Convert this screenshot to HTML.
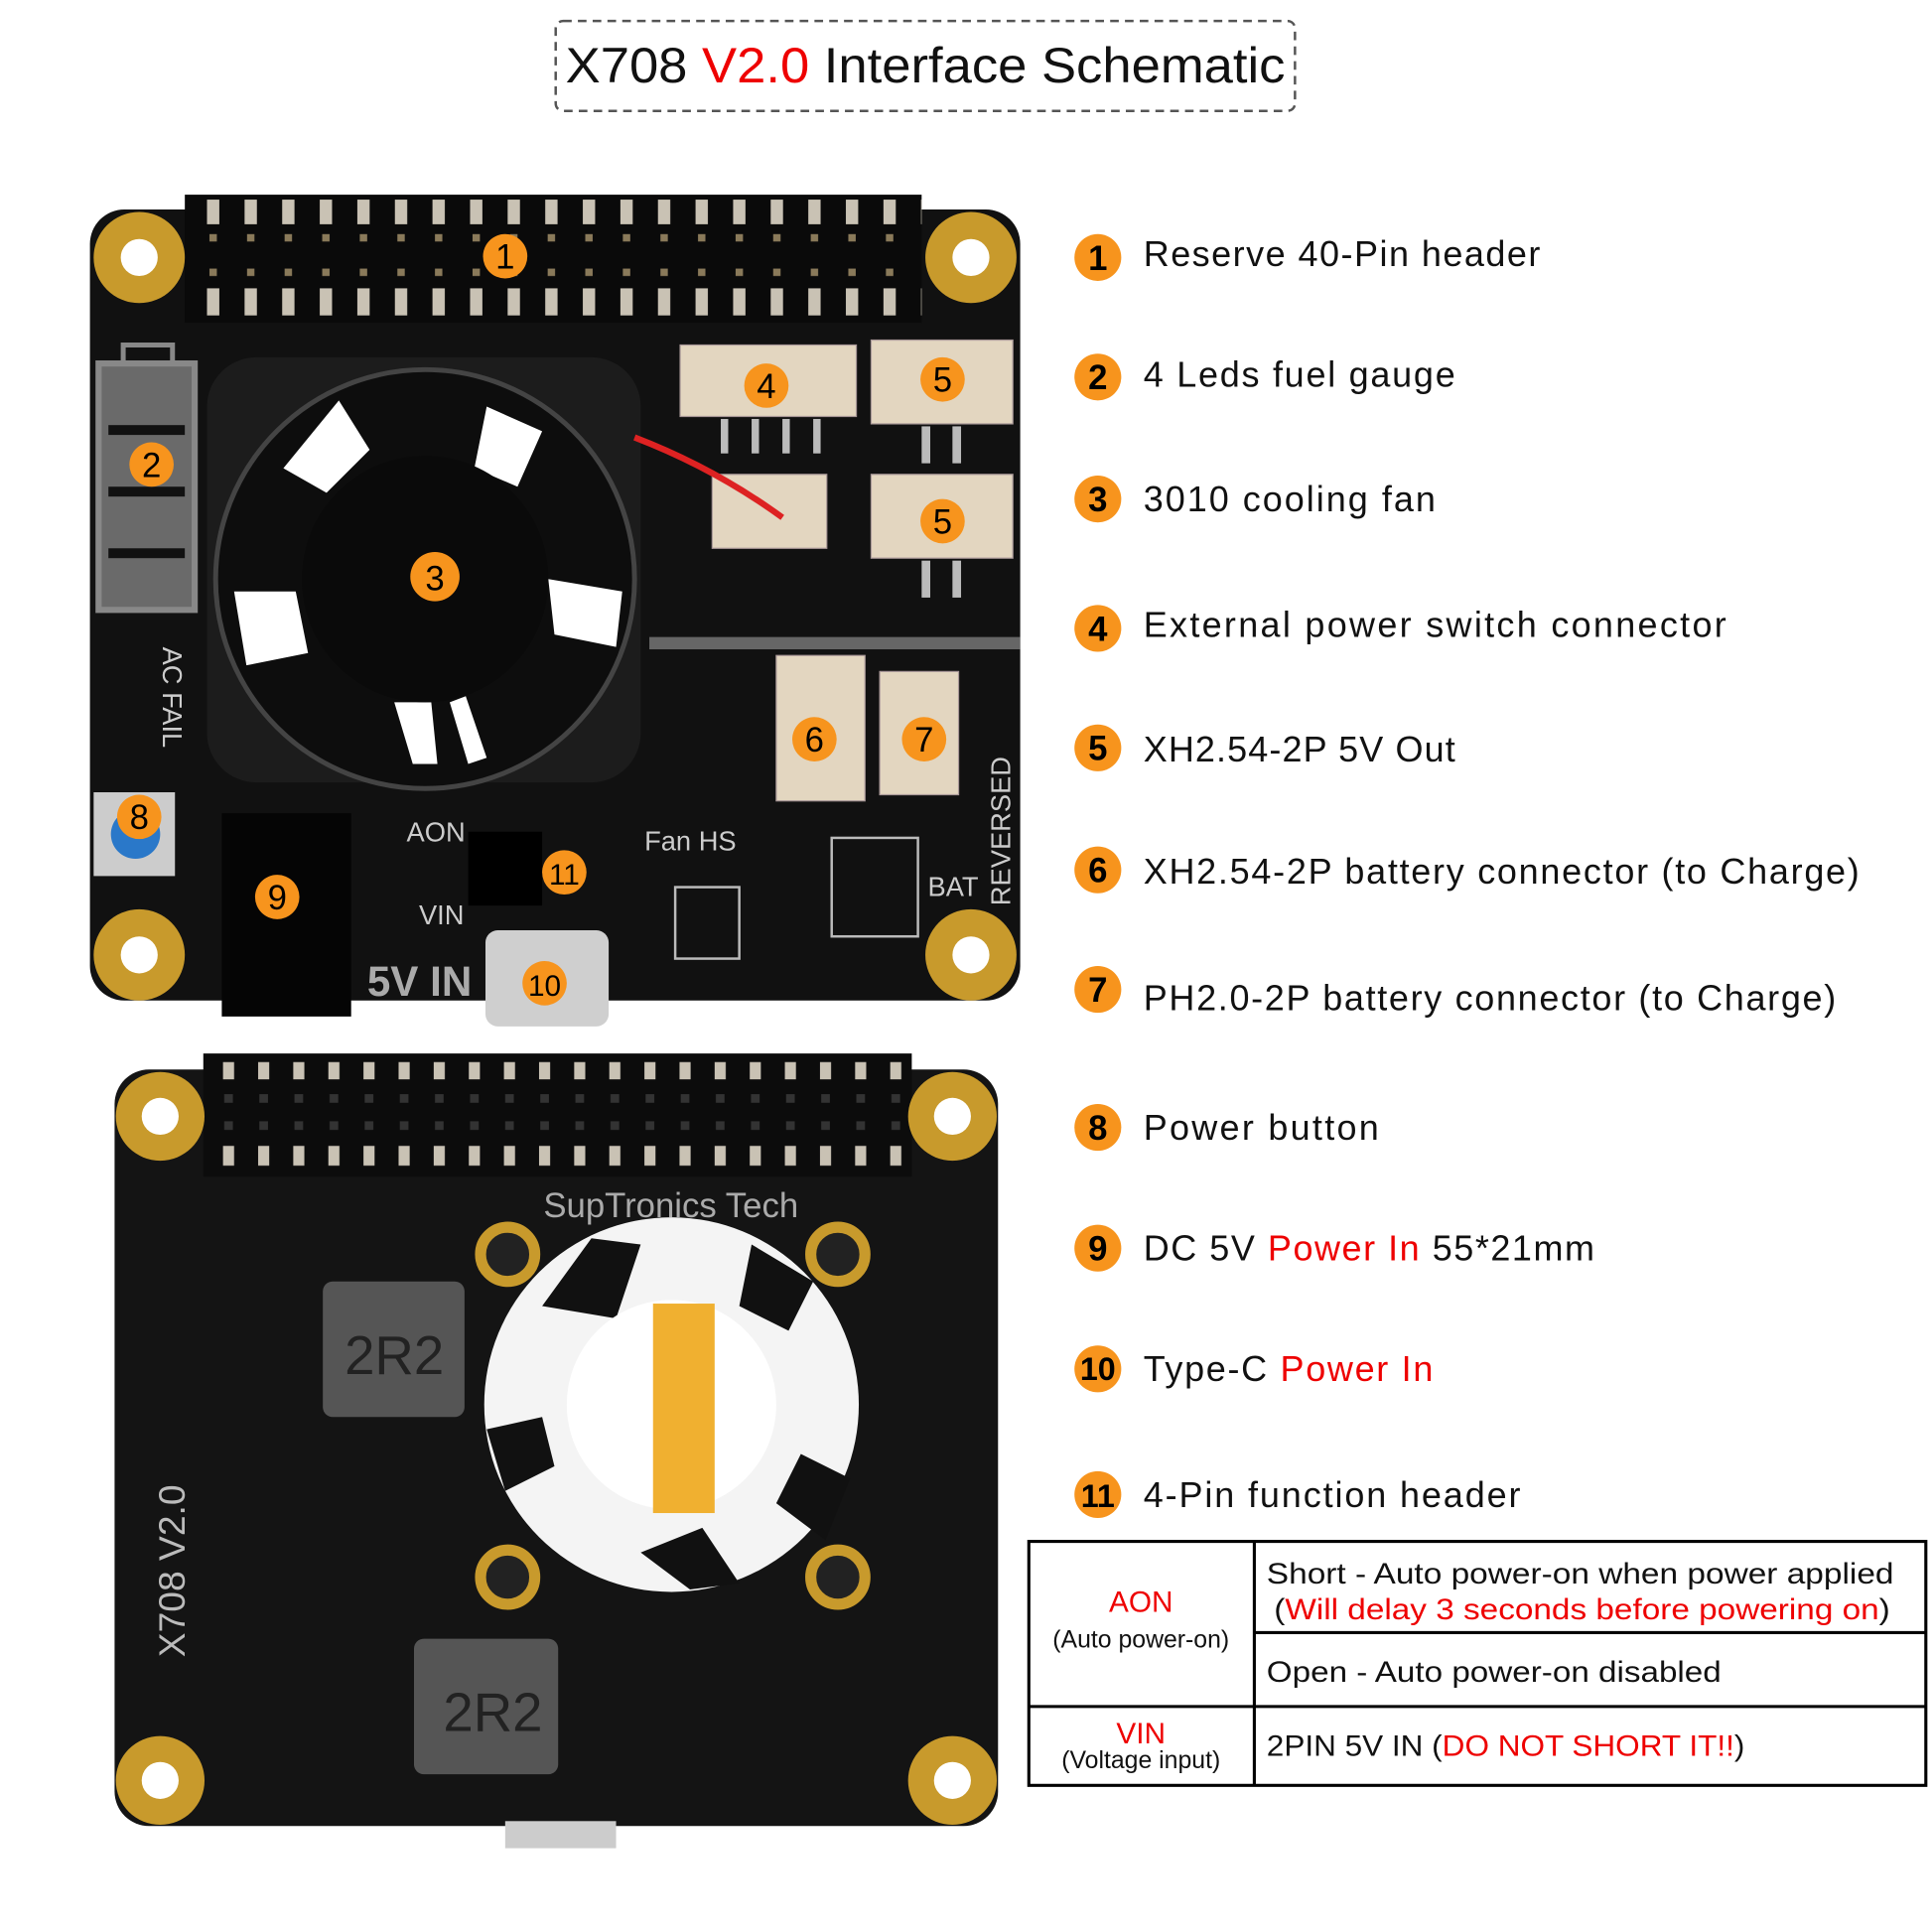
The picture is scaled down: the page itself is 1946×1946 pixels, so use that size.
<!DOCTYPE html>
<html><head><meta charset="utf-8"><style>
html,body{margin:0;padding:0;background:#fff}
svg{display:block}
text{font-family:"Liberation Sans",sans-serif}
</style></head><body>
<svg width="1946" height="1946" viewBox="0 0 1568 1568" xmlns="http://www.w3.org/2000/svg">
<defs>
<pattern id="pins" x="160" y="158" width="30.5" height="104" patternUnits="userSpaceOnUse">
<rect x="8" y="4" width="10" height="20" fill="#c9c2b4"/>
<rect x="8" y="76" width="10" height="22" fill="#c9c2b4"/>
<rect x="10" y="32" width="6" height="6" fill="#8a7a5a"/>
<rect x="10" y="60" width="6" height="6" fill="#8a7a5a"/>
</pattern>
<pattern id="pins2" x="175" y="855" width="28.5" height="100" patternUnits="userSpaceOnUse">
<rect x="6" y="7" width="9" height="14" fill="#c9c2b4"/>
<rect x="6" y="75" width="9" height="16" fill="#c9c2b4"/>
<rect x="7" y="33" width="7" height="7" fill="#333"/>
<rect x="7" y="55" width="7" height="7" fill="#333"/>
</pattern>
</defs>
<rect width="1568" height="1568" fill="#fff"/>
<rect x="451" y="17" width="600" height="73" rx="6" fill="none" stroke="#555" stroke-width="2" stroke-dasharray="7,5"/>
<text x="459" y="67" font-size="40" fill="#111" textLength="584" lengthAdjust="spacingAndGlyphs">X708 <tspan fill="#e00">V2.0</tspan> Interface Schematic</text>

<!-- TOP BOARD -->
<rect x="73" y="170" width="755" height="642" rx="28" fill="#111"/>
<rect x="150" y="158" width="598" height="104" fill="#0a0a0a"/>
<rect x="150" y="158" width="598" height="104" fill="url(#pins)"/>
<g fill="#c89a2c"><circle cx="113" cy="209" r="37"/><circle cx="788" cy="209" r="37"/><circle cx="113" cy="775" r="37"/><circle cx="788" cy="775" r="37"/></g>
<g fill="#fff"><circle cx="113" cy="209" r="15"/><circle cx="788" cy="209" r="15"/><circle cx="113" cy="775" r="15"/><circle cx="788" cy="775" r="15"/></g>
<rect x="80" y="295" width="78" height="200" fill="#6a6a6a" stroke="#888" stroke-width="5"/>
<g fill="#111"><rect x="88" y="345" width="62" height="8"/><rect x="88" y="395" width="62" height="8"/><rect x="88" y="445" width="62" height="8"/></g>
<rect x="100" y="280" width="40" height="15" fill="none" stroke="#888" stroke-width="4"/>
<rect x="168" y="290" width="352" height="345" rx="40" fill="#1c1c1c"/>
<circle cx="345" cy="470" r="170" fill="#0d0d0d" stroke="#444" stroke-width="4"/>
<g fill="#fff">
<polygon points="230,380 275,325 300,365 265,400"/>
<polygon points="395,330 440,350 420,395 385,380"/>
<polygon points="190,480 240,480 250,530 200,540"/>
<polygon points="445,470 505,480 500,525 450,515"/>
<polygon points="320,570 335,620 355,620 350,570"/>
<polygon points="365,570 380,620 395,615 378,565"/>
</g>
<circle cx="345" cy="470" r="100" fill="#0a0a0a"/>
<g fill="#e3d6c0" stroke="#a99"><rect x="552" y="280" width="143" height="58"/><rect x="707" y="276" width="115" height="68"/><rect x="707" y="385" width="115" height="68"/><rect x="578" y="385" width="93" height="60"/><rect x="630" y="532" width="72" height="118"/><rect x="714" y="545" width="64" height="100"/></g>
<g fill="#bbb"><rect x="585" y="340" width="6" height="28"/><rect x="610" y="340" width="6" height="28"/><rect x="635" y="340" width="6" height="28"/><rect x="660" y="340" width="6" height="28"/><rect x="748" y="346" width="7" height="30"/><rect x="773" y="346" width="7" height="30"/><rect x="748" y="455" width="7" height="30"/><rect x="773" y="455" width="7" height="30"/></g>
<path d="M515 355 Q580 380 635 420" stroke="#d22" stroke-width="5" fill="none"/>
<rect x="527" y="517" width="301" height="10" fill="#666"/>
<rect x="76" y="643" width="66" height="68" fill="#ccc"/>
<circle cx="110" cy="677" r="20" fill="#2a78c9"/>
<rect x="180" y="660" width="105" height="165" fill="#050505"/>
<rect x="394" y="755" width="100" height="78" rx="10" fill="#cfcfcf"/>
<rect x="380" y="675" width="60" height="60" fill="#000"/>
<text x="298" y="808" font-size="34" fill="#aaa" font-weight="bold">5V IN</text>
<text x="523" y="690" font-size="22" fill="#ccc">Fan HS</text>
<text x="330" y="683" font-size="22" fill="#ccc">AON</text>
<text x="340" y="750" font-size="22" fill="#ccc">VIN</text>
<text x="753" y="727" font-size="22" fill="#ccc">BAT</text>
<text transform="translate(820,735) rotate(-90)" font-size="22" fill="#ccc">REVERSED</text>
<text transform="translate(132,525) rotate(90)" font-size="22" fill="#ccc">AC FAIL</text>
<rect x="675" y="680" width="70" height="80" fill="none" stroke="#bbb" stroke-width="2"/>
<rect x="548" y="720" width="52" height="58" fill="none" stroke="#bbb" stroke-width="2"/>

<!-- BOTTOM BOARD -->
<rect x="93" y="868" width="717" height="614" rx="28" fill="#141414"/>
<rect x="165" y="855" width="575" height="100" fill="#0c0c0c"/>
<rect x="165" y="855" width="575" height="100" fill="url(#pins2)"/>
<g fill="#c89a2c"><circle cx="130" cy="906" r="36"/><circle cx="773" cy="906" r="36"/><circle cx="130" cy="1445" r="36"/><circle cx="773" cy="1445" r="36"/></g>
<g fill="#fff"><circle cx="130" cy="906" r="15"/><circle cx="773" cy="906" r="15"/><circle cx="130" cy="1445" r="15"/><circle cx="773" cy="1445" r="15"/></g>
<text x="441" y="988" font-size="28" fill="#aaa">SupTronics Tech</text>
<text transform="translate(150,1345) rotate(-90)" font-size="30" fill="#bbb">X708 V2.0</text>
<g fill="#222" stroke="#c89a2c" stroke-width="9"><circle cx="412" cy="1018" r="22"/><circle cx="680" cy="1018" r="22"/><circle cx="412" cy="1280" r="22"/><circle cx="680" cy="1280" r="22"/></g>
<circle cx="545" cy="1140" r="152" fill="#f4f4f4"/>
<g fill="#111">
<polygon points="440,1060 480,1005 520,1010 500,1070"/>
<polygon points="610,1010 660,1040 640,1080 600,1060"/>
<polygon points="395,1160 440,1150 450,1190 410,1210"/>
<polygon points="520,1260 560,1290 600,1285 570,1240"/>
<polygon points="650,1180 690,1200 670,1250 630,1220"/>
</g>
<circle cx="545" cy="1140" r="85" fill="#fff"/>
<rect x="530" y="1058" width="50" height="170" fill="#f0b030"/>
<rect x="262" y="1040" width="115" height="110" rx="8" fill="#555"/>
<text x="320" y="1115" font-size="44" fill="#222" text-anchor="middle">2R2</text>
<rect x="336" y="1330" width="117" height="110" rx="8" fill="#555"/>
<text x="400" y="1405" font-size="44" fill="#222" text-anchor="middle">2R2</text>
<rect x="410" y="1478" width="90" height="22" fill="#ccc"/>

<!-- LIST -->
<g fill="#f7941d">
<circle cx="891" cy="209" r="19"/><circle cx="891" cy="306" r="19"/><circle cx="891" cy="405" r="19"/><circle cx="891" cy="510" r="19"/><circle cx="891" cy="607" r="19"/><circle cx="891" cy="706" r="19"/><circle cx="891" cy="803" r="19"/><circle cx="891" cy="915" r="19"/><circle cx="891" cy="1013" r="19"/><circle cx="891" cy="1111" r="19"/><circle cx="891" cy="1213" r="19"/>
</g>
<g font-size="28" fill="#000" text-anchor="middle" font-weight="bold">
<text x="891" y="219">1</text><text x="891" y="316">2</text><text x="891" y="415">3</text><text x="891" y="520">4</text><text x="891" y="617">5</text><text x="891" y="716">6</text><text x="891" y="813">7</text><text x="891" y="925">8</text><text x="891" y="1023">9</text><text x="891" y="1120" font-size="26">10</text><text x="891" y="1223" font-size="26">11</text>
</g>
<g fill="#f7941d">
<circle cx="410" cy="208" r="18"/><circle cx="123" cy="377" r="18"/><circle cx="353" cy="468" r="20"/><circle cx="622" cy="313" r="18"/><circle cx="765" cy="308" r="18"/><circle cx="765" cy="423" r="18"/><circle cx="661" cy="600" r="18"/><circle cx="750" cy="600" r="18"/><circle cx="113" cy="663" r="18"/><circle cx="225" cy="728" r="18"/><circle cx="458" cy="708" r="18"/><circle cx="442" cy="798" r="18"/>
</g>
<g font-size="28" fill="#000" text-anchor="middle">
<text x="410" y="218">1</text><text x="123" y="387">2</text><text x="353" y="479">3</text><text x="622" y="323">4</text><text x="765" y="318">5</text><text x="765" y="433">5</text><text x="661" y="610">6</text><text x="750" y="610">7</text><text x="113" y="673">8</text><text x="225" y="738">9</text><text x="458" y="718" font-size="24">11</text><text x="442" y="808" font-size="24">10</text>
</g>
<g font-size="29" fill="#111" lengthAdjust="spacingAndGlyphs">
<text x="928" y="216" textLength="322">Reserve 40-Pin header</text>
<text x="928" y="314" textLength="253">4 Leds fuel gauge</text>
<text x="928" y="415" textLength="237">3010 cooling fan</text>
<text x="928" y="517" textLength="473">External power switch connector</text>
<text x="928" y="618" textLength="253">XH2.54-2P 5V Out</text>
<text x="928" y="717" textLength="581">XH2.54-2P battery connector (to Charge)</text>
<text x="928" y="820" textLength="562">PH2.0-2P battery connector (to Charge)</text>
<text x="928" y="925" textLength="191">Power button</text>
<text x="928" y="1023" textLength="366">DC 5V <tspan fill="#e00">Power In</tspan> 55*21mm</text>
<text x="928" y="1121" textLength="235">Type-C <tspan fill="#e00">Power In</tspan></text>
<text x="928" y="1223" textLength="306">4-Pin function header</text>
</g>
<g stroke="#000" stroke-width="2.5" fill="none">
<rect x="835" y="1251" width="728" height="198"/>
<line x1="1018" y1="1251" x2="1018" y2="1449"/>
<line x1="835" y1="1385" x2="1563" y2="1385"/>
<line x1="1018" y1="1325" x2="1563" y2="1325"/>
</g>
<g font-size="24">
<text x="926" y="1308" text-anchor="middle" fill="#e00">AON</text>
<text x="926" y="1337" text-anchor="middle" font-size="20" fill="#111">(Auto power-on)</text>
<text x="926" y="1415" text-anchor="middle" fill="#e00">VIN</text>
<text x="926" y="1435" text-anchor="middle" font-size="20" fill="#111">(Voltage input)</text>
<text x="1028" y="1285" fill="#111" textLength="509" lengthAdjust="spacingAndGlyphs">Short - Auto power-on when power applied</text>
<text x="1034" y="1314" fill="#111" textLength="500" lengthAdjust="spacingAndGlyphs">(<tspan fill="#e00">Will delay 3 seconds before powering on</tspan>)</text>
<text x="1028" y="1365" fill="#111" textLength="369" lengthAdjust="spacingAndGlyphs">Open - Auto power-on disabled</text>
<text x="1028" y="1425" fill="#111" textLength="388" lengthAdjust="spacingAndGlyphs">2PIN 5V IN (<tspan fill="#e00">DO NOT SHORT IT!!</tspan>)</text>
</g>
</svg>
</body></html>
